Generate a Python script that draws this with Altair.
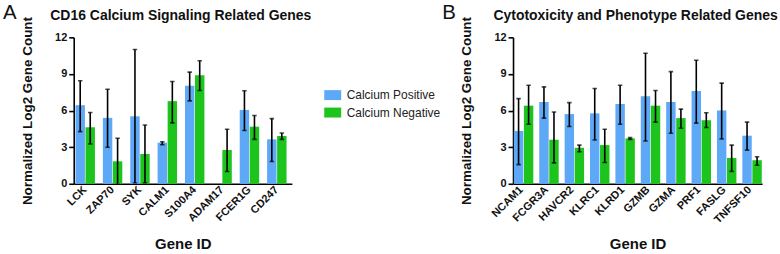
import altair as alt
import pandas as pd

# ---------------- data ----------------
genes_a = ["LCK", "ZAP70", "SYK", "CALM1", "S100A4", "ADAM17", "FCER1G", "CD247"]
pos_a = [6.44, 5.40, 5.53, 3.37, 8.03, None, 6.05, 3.64]
pos_a_hi = [8.44, 7.75, 11.00, 3.45, 9.15, None, 7.62, 5.34]
pos_a_lo = [4.27, 2.99, 0.06, 3.20, 6.79, None, 4.36, 1.82]
neg_a = [4.63, 1.84, 2.44, 6.77, 8.90, 2.77, 4.68, 3.92]
neg_a_hi = [5.84, 3.73, 4.82, 8.38, 10.08, 4.47, 5.59, 4.16]
neg_a_lo = [3.26, -0.05, 0.06, 4.99, 7.64, 1.00, 3.64, 3.64]

genes_b = ["NCAM1", "FCGR3A", "HAVCR2", "KLRC1", "KLRD1", "GZMB", "GZMA", "PRF1", "FASLG", "TNFSF10"]
pos_b = [4.33, 6.70, 5.71, 5.77, 6.54, 7.17, 6.70, 7.61, 6.01, 3.94]
pos_b_hi = [6.98, 7.94, 6.65, 7.81, 8.08, 10.70, 9.19, 10.12, 8.25, 5.05]
pos_b_lo = [1.57, 5.38, 4.69, 3.59, 4.88, 3.50, 4.14, 4.97, 3.67, 2.76]
neg_b = [6.40, 3.61, 2.95, 3.17, 3.72, 6.40, 5.38, 5.21, 2.12, 1.93]
neg_b_hi = [8.08, 5.88, 3.17, 4.47, 3.78, 7.64, 6.12, 5.82, 3.17, 2.21]
neg_b_lo = [4.88, 1.71, 2.62, 1.74, 3.64, 5.05, 4.55, 4.61, 1.02, 1.52]

groups = ["Calcium Positive", "Calcium Negative"]
colors = ["#5ea8f8", "#1cc41c"]
y_ticks = [0, 3, 6, 9, 12]
panel_letters = ["A", "B"]

FONT = "Liberation Sans"


def long_table(genes, p, phi, plo, n, nhi, nlo):
    rows = []
    for i, g in enumerate(genes):
        rows.append({"gene": g, "group": groups[0], "v": p[i], "hi": phi[i], "lo": plo[i]})
        rows.append({"gene": g, "group": groups[1], "v": n[i], "hi": nhi[i], "lo": nlo[i]})
    return pd.DataFrame(rows)


def panel(df, genes, title, w, h, pad_inner, pad_outer, align, letter, show_legend=False):
    xscale = alt.Scale(paddingInner=pad_inner, paddingOuter=pad_outer, align=align)
    xaxis = alt.Axis(title="Gene ID", labelAngle=-45, labelAlign="right", labelBaseline="middle",
                     ticks=False, labelPadding=4, titleY=53, titleBaseline="top")
    yaxis = alt.Axis(title="Normalized Log2 Gene Count", values=y_ticks, grid=False,
                     tickSize=5, titlePadding=20, labelOverlap=False)
    yscale = alt.Scale(domain=[0, 12])
    x = alt.X("gene:N", sort=genes, scale=xscale, axis=xaxis)
    xoff = alt.XOffset("group:N", sort=groups, scale=alt.Scale(paddingInner=0.06))
    if show_legend:
        leg = alt.Legend(title=None, orient="none", legendX=254, legendY=52,
                         symbolType="M-1.7,-1H1.7V1H-1.7Z", symbolSize=100,
                         symbolStrokeWidth=0, labelFontSize=12, labelFont=FONT,
                         labelColor="#222", rowPadding=5.5, labelOffset=8)
    else:
        leg = None
    color = alt.Color("group:N", sort=groups, scale=alt.Scale(domain=groups, range=colors), legend=leg)

    base = alt.Chart(df)
    bars = base.mark_bar().encode(x=x, xOffset=xoff, y=alt.Y("v:Q", scale=yscale, axis=yaxis), color=color)
    rules = base.mark_rule(color="black", strokeWidth=1.6, clip=True).encode(
        x=x, xOffset=xoff, y=alt.Y("lo:Q", scale=yscale, axis=yaxis), y2="hi:Q")
    cap_hi = base.mark_tick(color="black", size=4.5, thickness=1.6, clip=True).encode(
        x=x, xOffset=xoff, y=alt.Y("hi:Q", scale=yscale, axis=yaxis))
    cap_lo = base.mark_tick(color="black", size=4.5, thickness=1.6, clip=True).encode(
        x=x, xOffset=xoff, y=alt.Y("lo:Q", scale=yscale, axis=yaxis))

    lt = alt.Chart(pd.DataFrame({"t": [letter]})).mark_text(
        font=FONT, fontSize=20.5, align="left", baseline="alphabetic", color="#111").encode(
        text="t:N", x=alt.value(-71), y=alt.value(-18))
    return alt.layer(bars, rules, cap_hi, cap_lo, lt).properties(
        width=w, height=h,
        title=alt.TitleParams(title, font=FONT, fontSize=14, fontWeight="bold", color="#111",
                              offset=-20, frame="group", dx=-2))


df_a = long_table(genes_a, pos_a, pos_a_hi, pos_a_lo, neg_a, neg_a_hi, neg_a_lo)
df_b = long_table(genes_b, pos_b, pos_b_hi, pos_b_lo, neg_b, neg_b_hi, neg_b_lo)

pa = panel(df_a, genes_a, "CD16 Calcium Signaling Related Genes", 219, 147, 0.29, 0.13, 0.25,
           panel_letters[0], show_legend=True)
pb = panel(df_b, genes_b, "Cytotoxicity and Phenotype Related Genes", 250, 147, 0.41, 0.11, 0.15,
           panel_letters[1])

chart = alt.hconcat(pa, pb, spacing=1).resolve_scale(color="independent").properties(
    padding={"left": 3, "top": 3, "right": 2, "bottom": 0}
).configure_view(stroke=None).configure_axis(
    domainColor="black", domainWidth=1.6, tickColor="black", tickWidth=1.6,
    labelFont=FONT, labelFontSize=11, labelFontWeight="bold", labelColor="#111",
    titleFont=FONT, titleFontSize=15, titleFontWeight="bold", titleColor="#111"
).configure_axisY(titleFontSize=13.5)

chart.save("out.html", embed_options={"renderer": "svg", "actions": False})
